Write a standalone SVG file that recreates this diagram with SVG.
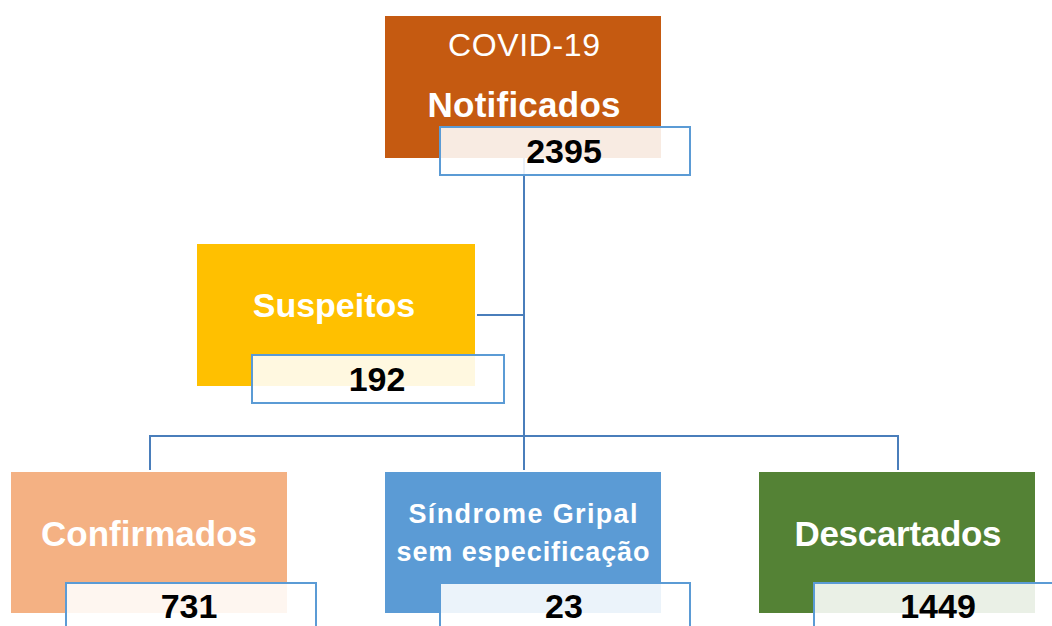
<svg xmlns="http://www.w3.org/2000/svg" width="1052" height="626" viewBox="0 0 1052 626">
<style>
.num{fill:#ffffff;fill-opacity:0.88;stroke:#5B9BD5;stroke-width:2}
.lbl{font-family:"Liberation Sans",Arial,sans-serif;font-weight:bold;fill:#ffffff;text-anchor:middle}
.val{font-family:"Liberation Sans",Arial,sans-serif;font-weight:bold;fill:#000000;text-anchor:middle;font-size:34px}
.conn{fill:none;stroke:#4A7EBB;stroke-width:2}
</style>
<rect width="1052" height="626" fill="#ffffff"/>
<g id="connectors">
<path class="conn" d="M524,158 V470"/>
<path class="conn" d="M477,315 H524"/>
<path class="conn" d="M150,470 V436 H898 V470"/>
</g>
<g id="notificados">
<rect x="385" y="16" width="276" height="142" fill="#C55A11"/>
<text x="524" y="56" font-family="Liberation Sans,Arial,sans-serif" font-size="32" fill="#ffffff" text-anchor="middle" textLength="152" lengthAdjust="spacing">COVID-19</text>
<text class="lbl" x="524" y="117" font-size="35" textLength="193" lengthAdjust="spacing">Notificados</text>
<rect class="num" x="440" y="127" width="250" height="48"/>
<text class="val" x="564" y="163">2395</text>
</g>
<g id="suspeitos">
<rect x="197" y="244" width="278" height="142" fill="#FFC000"/>
<text class="lbl" x="334" y="317" font-size="34">Suspeitos</text>
<rect class="num" x="252" y="355" width="252" height="48"/>
<text class="val" x="377" y="391">192</text>
</g>
<g id="confirmados">
<rect x="11" y="472" width="276" height="141" fill="#F4B183"/>
<text class="lbl" x="149" y="546" font-size="35" textLength="216" lengthAdjust="spacing">Confirmados</text>
<rect class="num" x="66" y="583" width="250" height="48"/>
<text class="val" x="189" y="618">731</text>
</g>
<g id="sindrome">
<rect x="385" y="472" width="276" height="141" fill="#5B9BD5"/>
<text class="lbl" x="523" y="523" font-size="27" textLength="229" lengthAdjust="spacing">Síndrome Gripal</text>
<text class="lbl" x="523" y="561" font-size="27" textLength="253" lengthAdjust="spacing">sem especificação</text>
<rect class="num" x="440" y="583" width="250" height="48"/>
<text class="val" x="564" y="618">23</text>
</g>
<g id="descartados">
<rect x="759" y="472" width="276" height="141" fill="#548235"/>
<text class="lbl" x="898" y="546" font-size="35" textLength="207" lengthAdjust="spacing">Descartados</text>
<rect class="num" x="814" y="583" width="250" height="48"/>
<text class="val" x="938" y="618">1449</text>
</g>
</svg>
